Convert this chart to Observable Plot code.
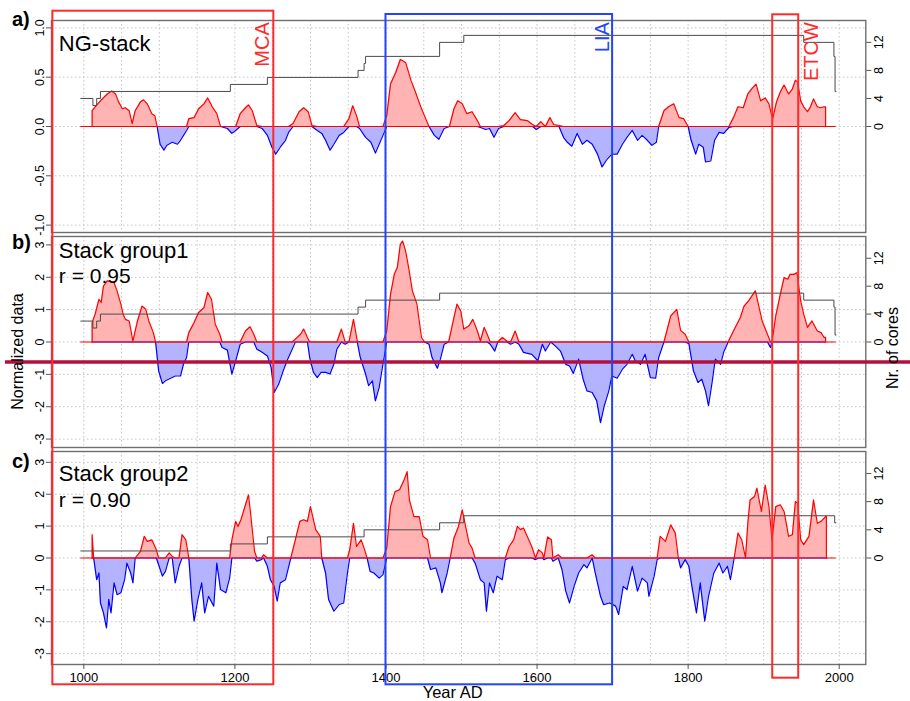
<!DOCTYPE html>
<html>
<head>
<meta charset="utf-8">
<script src="https://cdn.jsdelivr.net/npm/d3@7"></script>
<script src="https://cdn.jsdelivr.net/npm/@observablehq/plot@0.6"></script>
<style>
  body { margin: 0; background: #fff; }
  #fig { position: relative; width: 910px; height: 701px; overflow: hidden; background: #fff; }
  #fig svg { position: absolute; left: 0; }
</style>
</head>
<body>
<div id="fig"></div>
<script>
// ---- NG-stack (a) ----
const yearsA = [1011,1011,1015,1022,1031,1037,1042,1046,1051,1055,1060,1064,1068,1075,1079,1084,1090,1094,1097,1101,1106,1110,1117,1124,1128,1132,1136,1139,1146,1152,1159,1164,1170,1176,1181,1190,1196,1201,1207,1214,1218,1223,1229,1236,1243,1249,1254,1260,1267,1271,1277,1285,1291,1297,1302,1309,1315,1320,1326,1331,1338,1344,1351,1356,1361,1365,1373,1380,1386,1391,1396,1401,1406,1413,1419,1426,1433,1439,1446,1452,1457,1464,1470,1477,1484,1490,1495,1501,1507,1514,1521,1525,1532,1537,1543,1549,1556,1563,1571,1578,1587,1594,1599,1605,1611,1617,1622,1629,1635,1640,1646,1653,1660,1666,1673,1680,1686,1693,1699,1706,1713,1719,1726,1733,1739,1746,1752,1758,1761,1768,1774,1781,1788,1794,1800,1804,1810,1814,1820,1823,1830,1835,1841,1847,1854,1860,1866,1873,1879,1885,1890,1896,1902,1907,1910,1912,1917,1922,1927,1933,1938,1942,1945,1949,1953,1958,1962,1966,1971,1975,1980,1982,1982];
const valuesA = [0,0.16,0.20,0.26,0.33,0.36,0.33,0.25,0.18,0.19,0.16,0.03,0.16,0.25,0.27,0.23,0.13,0.11,0.00,-0.18,-0.24,-0.19,-0.16,-0.18,-0.14,-0.09,-0.04,0.08,0.09,0.18,0.23,0.29,0.20,0.13,0.00,-0.02,-0.07,-0.04,0.13,0.19,0.22,0.16,0.01,-0.02,-0.09,-0.21,-0.28,-0.21,-0.14,-0.06,0.03,0.15,0.19,0.15,0.01,-0.04,-0.07,-0.14,-0.24,-0.18,-0.09,-0.06,0.08,0.21,0.11,-0.02,-0.11,-0.16,-0.27,-0.18,-0.09,0.11,0.43,0.55,0.68,0.65,0.47,0.35,0.20,0.09,0.00,-0.09,-0.13,-0.02,0.00,0.18,0.26,0.23,0.13,0.15,0.06,-0.01,-0.03,-0.02,-0.11,-0.02,0.01,0.06,0.14,0.07,0.06,0.02,-0.03,0.05,0.00,0.09,0.02,0.01,-0.11,-0.16,-0.20,-0.07,-0.18,-0.14,-0.18,-0.28,-0.41,-0.33,-0.28,-0.28,-0.18,-0.11,-0.04,-0.14,-0.09,-0.14,-0.19,-0.16,0.00,0.16,0.20,0.23,0.09,0.08,0.00,-0.14,-0.28,-0.18,-0.21,-0.36,-0.35,-0.14,-0.06,-0.07,-0.01,0.09,0.20,0.19,0.33,0.39,0.43,0.26,0.29,0.23,0.13,0.08,0.25,0.35,0.42,0.33,0.38,0.47,0.45,0.26,0.20,0.15,0.20,0.28,0.20,0.19,0.20,0.20,0];

// ---- Stack group1 (b) ----
const yearsB = [1011,1011,1015,1020,1023,1026,1031,1040,1044,1049,1052,1055,1060,1065,1071,1077,1082,1086,1092,1095,1099,1104,1108,1115,1121,1128,1132,1136,1139,1146,1152,1159,1164,1169,1174,1180,1183,1190,1196,1201,1207,1214,1220,1225,1229,1236,1243,1248,1252,1258,1264,1269,1276,1280,1287,1291,1296,1299,1304,1309,1314,1320,1326,1331,1335,1341,1346,1351,1357,1362,1366,1373,1377,1382,1386,1391,1396,1401,1406,1411,1415,1419,1422,1426,1430,1435,1441,1447,1451,1457,1461,1468,1472,1477,1483,1490,1494,1499,1503,1510,1515,1521,1525,1530,1534,1538,1544,1548,1554,1560,1565,1571,1576,1582,1593,1601,1607,1611,1618,1624,1631,1638,1643,1648,1655,1661,1666,1673,1679,1684,1689,1695,1699,1706,1713,1719,1726,1730,1737,1743,1750,1757,1761,1768,1777,1785,1790,1796,1801,1807,1813,1818,1823,1827,1832,1836,1843,1847,1853,1860,1869,1874,1880,1889,1894,1898,1905,1909,1911,1916,1922,1927,1932,1935,1940,1944,1949,1953,1958,1964,1971,1976,1980,1982,1982];
const valuesB = [0,0.60,0.86,1.32,1.22,1.73,1.89,1.84,1.58,1.17,0.86,0.70,0.65,0.03,0.65,1.11,1.01,0.65,0.29,0.00,-0.89,-1.28,-1.20,-1.12,-1.05,-1.05,-0.68,-0.48,0.29,0.60,0.91,1.06,1.53,1.32,0.55,0.24,-0.17,-0.25,-0.99,-0.58,-0.07,0.34,0.47,0.24,-0.22,-0.32,-0.43,-0.79,-1.56,-1.30,-0.89,-0.58,-0.22,0.09,0.24,0.40,0.14,-0.48,-0.94,-1.10,-0.94,-0.94,-0.99,-0.68,-0.22,0.40,-0.07,0.00,0.70,0.03,-0.48,-0.99,-1.35,-1.20,-1.82,-1.40,-0.68,0.34,1.47,2.09,2.30,3.02,3.12,2.81,2.30,1.58,1.17,0.14,0.00,-0.07,-0.48,-0.81,-0.53,-0.07,0.01,0.75,1.17,0.96,0.40,0.50,0.70,0.34,0.03,0.45,0.24,-0.07,-0.28,0.00,0.14,0.03,-0.07,0.34,-0.07,-0.32,-0.38,-0.58,-0.07,-0.28,0.00,-0.12,-0.28,-0.69,-0.74,-0.97,-0.53,-1.15,-1.51,-1.56,-1.82,-2.49,-1.97,-1.51,-1.05,-1.12,-0.84,-0.69,-0.38,-0.58,-0.69,-0.38,-1.10,-1.12,-0.48,0.00,0.81,1.01,0.36,0.24,-0.05,-0.89,-1.25,-1.15,-1.51,-1.97,-1.20,-0.53,-0.69,-0.32,0.00,0.34,0.75,1.11,1.27,1.58,1.06,0.65,0.24,-0.17,0.00,0.81,1.47,1.99,1.94,2.09,2.09,2.14,1.27,0.86,0.45,0.65,0.34,0.29,0.14,0.14,0];

// ---- Stack group2 (c) ----
const yearsC = [1011,1011,1013,1017,1020,1022,1026,1030,1033,1036,1040,1044,1049,1054,1057,1062,1065,1068,1075,1080,1084,1090,1096,1099,1104,1108,1113,1117,1121,1126,1130,1135,1139,1143,1146,1151,1156,1160,1165,1172,1176,1181,1188,1193,1196,1201,1204,1208,1214,1218,1221,1226,1229,1235,1238,1243,1247,1252,1256,1260,1267,1274,1280,1286,1291,1296,1300,1307,1313,1315,1320,1324,1331,1338,1344,1349,1352,1357,1361,1367,1371,1375,1379,1384,1391,1396,1401,1406,1412,1418,1424,1428,1431,1437,1444,1449,1455,1459,1466,1472,1474,1481,1485,1490,1496,1501,1505,1510,1514,1518,1525,1530,1533,1537,1542,1547,1554,1558,1563,1569,1574,1578,1582,1589,1593,1598,1602,1607,1609,1614,1619,1621,1628,1633,1638,1643,1649,1655,1662,1666,1673,1677,1684,1688,1696,1704,1708,1714,1719,1726,1733,1739,1746,1748,1755,1759,1763,1770,1777,1783,1787,1790,1796,1801,1805,1811,1816,1822,1827,1834,1841,1846,1852,1856,1861,1866,1871,1876,1879,1882,1888,1891,1897,1902,1907,1911,1916,1922,1927,1933,1938,1942,1945,1949,1953,1960,1966,1971,1976,1982,1983,1983];
const valuesC = [0,0.73,0.00,-0.68,-0.47,-1.41,-1.72,-2.19,-1.30,-1.72,-0.78,-1.15,-1.09,-0.68,-0.16,-0.47,-0.78,0.00,0.21,0.68,0.52,0.57,0.26,-0.21,-0.57,-0.42,0.16,0.05,-0.78,-0.26,0.73,0.57,0.00,-1.30,-1.98,-1.30,-0.78,-1.72,-1.20,-1.51,-0.16,-0.99,-1.09,-0.63,0.57,1.15,0.99,1.20,1.67,1.98,1.35,0.21,-0.10,-0.05,0.10,-0.26,-0.68,-0.89,-1.35,-0.78,-0.68,0.00,0.57,1.15,1.20,1.15,1.61,0.89,0.68,0.00,-0.47,-1.30,-1.67,-1.46,-1.41,-0.47,0.26,1.09,0.36,0.57,0.31,0.00,-0.42,-0.47,-0.63,-0.52,0.31,1.61,2.08,2.14,2.45,2.71,1.82,1.30,1.30,0.68,0.57,-0.36,-0.31,-0.78,-1.09,-0.47,0.00,0.63,0.99,1.51,1.04,0.47,0.31,-0.16,-0.68,-0.78,-1.67,-0.78,-1.09,-0.57,-0.68,-0.05,0.36,0.57,0.99,0.89,0.94,0.57,0.36,-0.05,0.26,0.16,-0.05,0.66,0.57,-0.10,0.10,-0.36,-1.04,-1.41,-0.89,-0.47,-0.21,-0.31,0.10,-0.47,-1.20,-1.46,-1.41,-1.51,-1.77,-0.89,-0.99,-0.26,-1.04,-0.63,-0.78,-1.20,-0.57,-0.05,0.68,0.52,1.04,0.78,0.00,-0.31,-0.05,-0.26,-0.89,-1.72,-0.78,-1.98,-1.20,-0.47,-0.16,-0.47,-0.26,-0.68,0.00,0.78,0.57,0.00,1.09,1.82,1.93,2.19,1.46,2.29,1.61,0.57,1.61,1.67,1.46,0.68,0.73,1.77,1.72,0.57,0.42,0.68,1.82,1.09,1.15,1.30,1.30,0];

// ---- Number of cores in each stack (value holds from that year onward) ----
const coreYearsA = [996,1012,1017,1022,1194,1243,1363,1371,1373,1471,1503,1953,1993,1994.5,1996];
const coreCountsA = [4,3,4,5,6,7,8,9,10,12,13,12,10,5,5];
const coreYearsB = [996,1012,1017,1022,1363,1373,1471,1953,1993,1994.5,1996];
const coreCountsB = [3,2,3,4,5,6,7,6,5,1,1];
const coreYearsC = [996,1194,1243,1371,1471,1503,1994,1996];
const coreCountsC = [1,2,3,4,5,6,5,5];

// ---- Axes ----
const xDomain = [957.2, 2035.2];
const xTicks = [1000, 1200, 1400, 1600, 1800, 2000];
const xGrid = d3.range(1000, 2001, 50);
const yTicksA = [-1, -0.5, 0, 0.5, 1];
const yTicksBC = [-3, -2, -1, 0, 1, 2, 3];
const coreTicks = [0, 4, 8, 12];
const coreLim = 15.12;
const baseSpan = [996, 1996];

// ---- Climate periods ----
const periodNames = ["MCA", "LIA", "ETCW"];
const periodStart = [959, 1400, 1912];
const periodEnd = [1251.5, 1700, 1946.4];

const markerLevel = -0.62;

const FONT = "'Liberation Sans', Arial, Helvetica, sans-serif";
const RED = "#ff0000", BLUE = "#0000ff";
const GRID = "#c4c4c4";

function panel({years, values, coreYears, coreCounts, lim, yTicks, yFmt, title, r, letter,
                letterDy, titleDy, rDy, height, marginTop, marginBottom, top, xAxis, extra = []}) {
  const rows = years.map((t, i) => ({year: t, v: values[i]}));
  const cores = coreYears.map((t, i) => ({year: t, n: coreCounts[i]}));
  const k = lim / coreLim;
  const marks = [
    Plot.ruleX(xGrid, {x: d => d, stroke: GRID, strokeDasharray: "1.5,2.5"}),
    Plot.ruleY(yTicks, {y: d => d, stroke: GRID, strokeDasharray: "1.5,2.5"}),
    Plot.areaY(rows, {x: "year", y1: 0, y2: d => Math.max(0, d.v), fill: "#ffb3b3"}),
    Plot.areaY(rows, {x: "year", y1: 0, y2: d => Math.min(0, d.v), fill: "#b3b3ff"}),
    Plot.lineY(rows, {x: "year", y: d => Math.min(0, d.v), stroke: BLUE, strokeWidth: 1.2}),
    Plot.ruleY([0], {x1: baseSpan[0], x2: baseSpan[1], stroke: RED, strokeWidth: 1.1}),
    Plot.lineY(rows, {x: "year", y: d => Math.max(0, d.v), stroke: RED, strokeWidth: 1.2}),
    Plot.line(cores, {x: "year", y: d => d.n * k, curve: "step-after", stroke: "#4a4a4a", strokeWidth: 1}),
    Plot.frame({stroke: "#6e6e6e", strokeWidth: 1.4}),
    Plot.axisY(yTicks, {anchor: "left", tickSize: 5, tickPadding: 3, tickFormat: yFmt, tickRotate: -90,
      textAnchor: "middle", lineAnchor: "bottom", fontSize: 12.5, label: null, stroke: "#555"}),
    Plot.axisY(coreTicks.map(c => c * k), {anchor: "right", tickSize: 5, tickPadding: 3,
      tickFormat: v => String(Math.round(v / k)), tickRotate: -90,
      textAnchor: "middle", lineAnchor: "top", fontSize: 12.5, label: null, stroke: "#555"}),
    Plot.text([letter], {frameAnchor: "top-left", dx: -39.5, dy: letterDy, textAnchor: "start",
      lineAnchor: "middle", fontSize: 20, fontWeight: "bold"}),
    Plot.text([title], {frameAnchor: "top-left", dx: 7.3, dy: titleDy, textAnchor: "start",
      lineAnchor: "top", fontSize: 22})
  ];
  if (r) marks.push(Plot.text([r], {frameAnchor: "top-left", dx: 7.3, dy: rDy, textAnchor: "start",
      lineAnchor: "top", fontSize: 21}));
  if (xAxis) {
    marks.push(Plot.axisX(xTicks, {anchor: "bottom", tickSize: 5, tickPadding: 3, tickFormat: d => String(d),
      fontSize: 13, label: null, stroke: "#555"}));
    marks.push(Plot.text(["Year AD"], {frameAnchor: "bottom", dx: -6, dy: 28, fontSize: 16.5, lineAnchor: "middle"}));
  }
  marks.push(...extra);
  const svg = Plot.plot({
    width: 910, height, marginLeft: 51, marginRight: 44.7, marginTop, marginBottom,
    x: {domain: xDomain, axis: null},
    y: {domain: [-lim, lim], axis: null},
    style: {background: "transparent", overflow: "visible", fontFamily: FONT, color: "#000"},
    marks
  });
  svg.style.top = top + "px";
  return svg;
}

const fig = document.getElementById("fig");

fig.append(panel({years: yearsA, values: valuesA, coreYears: coreYearsA, coreCounts: coreCountsA,
  lim: 1.075, yTicks: yTicksA, yFmt: d => d3.format(".1f")(d).replace("−", "-"),
  title: "NG-stack", letter: "a)", letterDy: -1, titleDy: 15,
  height: 240, marginTop: 20, marginBottom: 8, top: 0}));

fig.append(panel({years: yearsB, values: valuesB, coreYears: coreYearsB, coreCounts: coreCountsB,
  lim: 3.26, yTicks: yTicksBC, yFmt: d => String(d),
  title: "Stack group1", r: "r = 0.95", letter: "b)", letterDy: 6, titleDy: 6, rDy: 32,
  height: 231, marginTop: 10, marginBottom: 10, top: 226,
  extra: [Plot.ruleY([markerLevel], {stroke: "#b3103f", strokeWidth: 3.5, insetLeft: -46, insetRight: -46})]}));

fig.append(panel({years: yearsC, values: valuesC, coreYears: coreYearsC, coreCounts: coreCountsC,
  lim: 3.34, yTicks: yTicksBC, yFmt: d => String(d),
  title: "Stack group2", r: "r = 0.90", letter: "c)", letterDy: 10, titleDy: 14, rDy: 40.5,
  height: 260, marginTop: 10, marginBottom: 37, top: 441, xAxis: true}));

// Period boxes, their labels and the shared axis titles
const periods = periodNames.map((name, i) => ({name, start: periodStart[i], end: periodEnd[i]}));
const PRED = "#ff2b2b", PBLUE = "#2244ff";
const overlay = Plot.plot({
  width: 910, height: 701, marginLeft: 51, marginRight: 44.7, marginTop: 10.7, marginBottom: 16.7,
  x: {domain: xDomain, axis: null},
  style: {background: "transparent", overflow: "visible", fontFamily: FONT, pointerEvents: "none"},
  marks: [
    Plot.rect([periods[0]], {x1: "start", x2: "end", fill: "none", stroke: PRED, strokeWidth: 2}),
    Plot.rect([periods[1]], {x1: "start", x2: "end", fill: "none", stroke: PBLUE, strokeWidth: 2, insetTop: 3.3}),
    Plot.rect([periods[2]], {x1: "start", x2: "end", fill: "none", stroke: PRED, strokeWidth: 2, insetTop: 3.6, insetBottom: 6.6}),
    Plot.text([periods[0]], {x: "end", text: "name", frameAnchor: "top", dx: -11.6, dy: 11, rotate: -90,
      textAnchor: "end", lineAnchor: "middle", fontSize: 20, fill: PRED}),
    Plot.text([periods[1]], {x: "end", text: "name", frameAnchor: "top", dx: -10, dy: 11, rotate: -90,
      textAnchor: "end", lineAnchor: "middle", fontSize: 20, fill: PBLUE}),
    Plot.text([periods[2]], {x: "end", text: "name", frameAnchor: "top", dx: 13.3, dy: 11, rotate: -90,
      textAnchor: "end", lineAnchor: "middle", fontSize: 20, fill: PRED}),
    Plot.text(["Normalized data"], {frameAnchor: "left", dx: -34, dy: 3.5, rotate: -90, fontSize: 16,
      textAnchor: "middle", lineAnchor: "middle"}),
    Plot.text(["Nr. of cores"], {frameAnchor: "right", dx: 27, dy: 0, rotate: -90, fontSize: 16,
      textAnchor: "middle", lineAnchor: "middle"})
  ]
});
overlay.style.top = "0px";
fig.append(overlay);
</script>
</body>
</html>
